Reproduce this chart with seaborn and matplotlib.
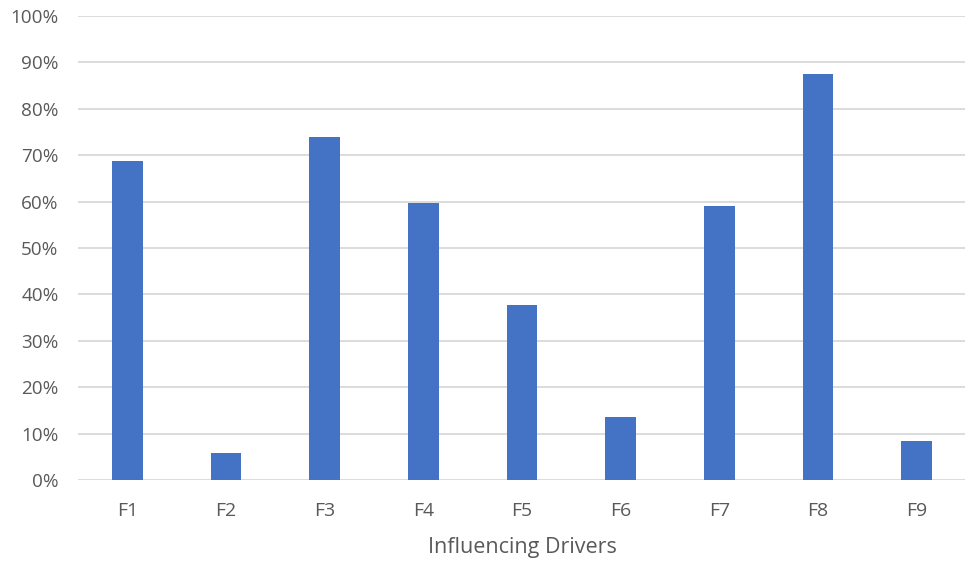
import matplotlib
matplotlib.use("Agg")
import matplotlib.pyplot as plt
import seaborn as sns
import pandas as pd
from matplotlib.ticker import PercentFormatter

drivers = ["F1", "F2", "F3", "F4", "F5", "F6", "F7", "F8", "F9"]
share = [0.688, 0.058, 0.740, 0.597, 0.377, 0.136, 0.591, 0.876, 0.084]

df = pd.DataFrame({"driver": drivers, "share": share})

sns.set_theme(style="white")
plt.rcParams["font.family"] = ["Open Sans", "DejaVu Sans"]

fig = plt.figure(figsize=(9.65, 5.61), dpi=100)
ax = fig.add_axes([78 / 965, 1 - 480 / 561, 888 / 965, 464 / 561])

sns.barplot(data=df, x="driver", y="share", color="#4472C4", saturation=1,
            width=0.31, linewidth=0, ax=ax, zorder=3)

ax.set_ylim(0, 1.0)
ax.set_xlim(-0.5, len(drivers) - 0.5)
ax.set_yticks([i / 10 for i in range(11)])
ax.yaxis.set_major_formatter(PercentFormatter(1.0, decimals=0))
ax.grid(axis="y", color="#d9d9d9", linewidth=1.3, zorder=0)
ax.grid(axis="x", visible=False)
for s in ax.spines.values():
    s.set_visible(False)

ax.tick_params(axis="y", length=0, pad=14, labelsize=13.6, labelcolor="#595959")
ax.tick_params(axis="x", length=0, pad=16, labelsize=14, labelcolor="#595959")
ax.set_ylabel("")
ax.set_xlabel("Influencing Drivers", fontsize=15.5, color="#595959", labelpad=12)

fig.savefig("out.png", dpi=100)
